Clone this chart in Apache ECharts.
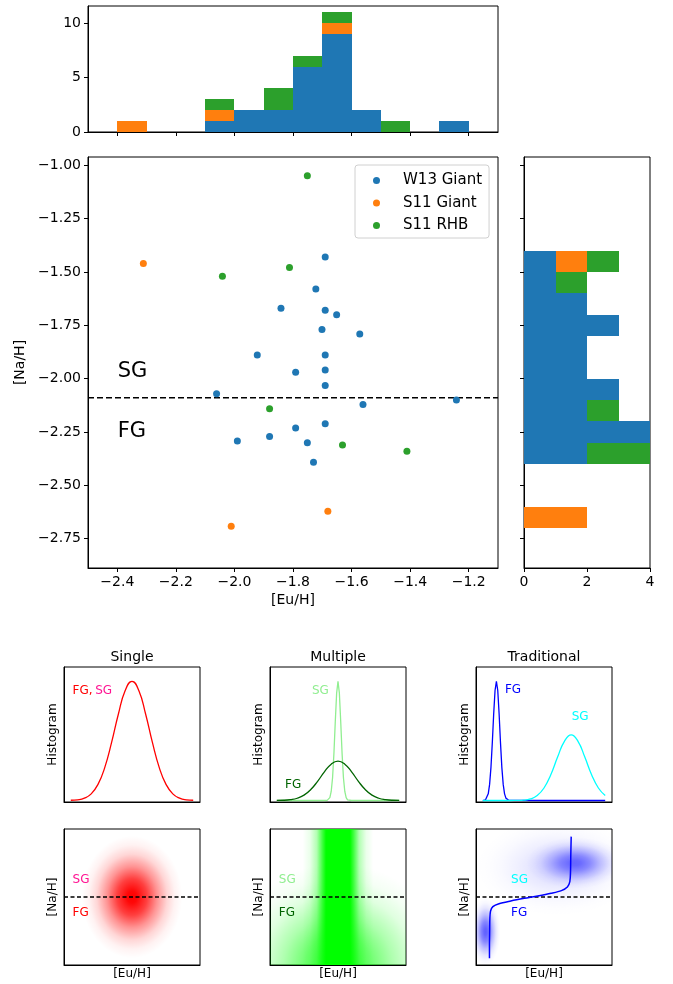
<!DOCTYPE html>
<html>
<head>
<meta charset="utf-8">
<script src="https://cdn.jsdelivr.net/npm/echarts@6/dist/echarts.min.js"></script>
<style>
  html, body { margin: 0; padding: 0; background: #fff; }
  #chart { width: 673px; height: 984px; }
</style>
</head>
<body>
<div id="chart"></div>
<script>
// ---- scatter points ----
var w13Eu = [-1.690, -1.722, -1.841, -1.690, -1.651, -1.701, -1.572, -1.922, -1.690, -1.791, -1.690,
             -1.690, -2.061, -1.242, -1.561, -1.690, -1.791, -1.880, -1.990, -1.751, -1.730];
var w13Na = [-1.429, -1.579, -1.670, -1.679, -1.700, -1.770, -1.791, -1.889, -1.889, -1.970, -1.960,
             -2.032, -2.071, -2.100, -2.121, -2.212, -2.231, -2.271, -2.292, -2.301, -2.392];
var s11gEu = [-2.311, -2.011, -1.681];
var s11gNa = [-1.460, -2.692, -2.622];
var s11rEu = [-1.751, -1.812, -2.041, -1.880, -1.631, -1.411];
var s11rNa = [-1.048, -1.479, -1.520, -2.141, -2.311, -2.340];
var splitNa = -2.09;

// ---- top histogram ([Eu/H]) ----
var topEdges = [-2.4, -2.3, -2.2, -2.1, -2.0, -1.9, -1.8, -1.7, -1.6, -1.5, -1.4, -1.3, -1.2];
var topW13  = [0, 0, 0, 1, 2, 2, 6, 9, 2, 0, 0, 1];
var topS11g = [1, 0, 0, 1, 0, 0, 0, 1, 0, 0, 0, 0];
var topS11r = [0, 0, 0, 1, 0, 2, 1, 1, 0, 1, 0, 0];

// ---- right histogram ([Na/H]), bins from bottom to top ----
var rightEdges = [-2.7, -2.6, -2.5, -2.4, -2.3, -2.2, -2.1, -2.0, -1.9, -1.8, -1.7, -1.6, -1.5, -1.4];
var rightW13  = [0, 0, 0, 2, 4, 2, 3, 2, 2, 3, 2, 1, 1];
var rightS11g = [2, 0, 0, 0, 0, 0, 0, 0, 0, 0, 0, 0, 1];
var rightS11r = [0, 0, 0, 2, 0, 1, 0, 0, 0, 0, 0, 1, 1];

// tick labels
var euTicks = [-2.4, -2.2, -2.0, -1.8, -1.6, -1.4, -1.2];
var naTicks = [-2.75, -2.5, -2.25, -2.0, -1.75, -1.5, -1.25, -1.0];
var countTicksTop = [0, 5, 10];
var countTicksRight = [0, 2, 4];

// ---- schematic panels (x as fraction of the panel) ----
var xWide = [0.05, 0.1, 0.15, 0.2, 0.25, 0.3, 0.35, 0.4, 0.45, 0.5, 0.55, 0.6, 0.65, 0.7, 0.75, 0.8, 0.85, 0.9, 0.95];
var singleY = [0.002, 0.006, 0.02, 0.056, 0.135, 0.278, 0.487, 0.726, 0.923, 1, 0.923, 0.726, 0.487, 0.278, 0.135, 0.056, 0.02, 0.006, 0.002];
var multFgY = [0.001, 0.002, 0.007, 0.019, 0.045, 0.092, 0.161, 0.24, 0.305, 0.33, 0.305, 0.24, 0.161, 0.092, 0.045, 0.019, 0.007, 0.002, 0.001];
var multSgX = [0.05, 0.3, 0.4, 0.42, 0.43, 0.44, 0.45, 0.46, 0.47, 0.48, 0.49, 0.5, 0.51, 0.52, 0.53, 0.54, 0.55, 0.56, 0.57, 0.58, 0.6, 0.7, 0.95];
var multSgY = [0, 0, 0, 0.001, 0.006, 0.024, 0.076, 0.191, 0.395, 0.661, 0.902, 1, 0.902, 0.661, 0.395, 0.191, 0.076, 0.024, 0.006, 0.001, 0, 0, 0];
var tradFgX = [0.05, 0.06, 0.07, 0.08, 0.09, 0.1, 0.11, 0.12, 0.13, 0.14, 0.15, 0.16, 0.17, 0.18, 0.19, 0.2, 0.21, 0.22, 0.23, 0.24, 0.25, 0.5, 0.95];
var tradFgY = [0, 0.002, 0.006, 0.02, 0.056, 0.135, 0.278, 0.487, 0.726, 0.923, 1, 0.923, 0.726, 0.487, 0.278, 0.135, 0.056, 0.02, 0.006, 0.002, 0, 0, 0];
var tradSgY = [0, 0, 0, 0, 0, 0.001, 0.003, 0.013, 0.042, 0.105, 0.217, 0.364, 0.496, 0.55, 0.496, 0.364, 0.217, 0.105, 0.042];
// traditional track in the [Eu/H]-[Na/H] sketch
var trackX = [0.099, 0.099, 0.100, 0.102, 0.107, 0.124, 0.169, 0.256, 0.355, 0.454, 0.553, 0.628, 0.672, 0.690, 0.695, 0.697, 0.700];
var trackY = [0.049, 0.15, 0.221, 0.343, 0.397, 0.429, 0.451, 0.471, 0.490, 0.507, 0.527, 0.547, 0.574, 0.613, 0.686, 0.809, 0.944];
// blobs: [centre x, centre y, radius x, radius y, peak alpha]
var singleBlob = [[0.5, 0.5, 0.37, 0.45, 1]];
var multBlob = [[0.5, 0.0, 0.8, 0.75, 0.75]];
var multBand = [[0.24, 0.76, 0, 1]];
var tradBlobs = [[0.6, 0.72, 0.6, 0.36, 0.14], [0.73, 0.75, 0.36, 0.19, 0.55], [0.07, 0.245, 0.11, 0.25, 0.62]];

var font = 'DejaVu Sans';
var C_BLUE = '#1f77b4', C_ORANGE = '#ff7f0e', C_GREEN = '#2ca02c';

function zip(a, b) { return a.map(function (v, i) { return [v, b[i]]; }); }

function fmt(d) {
  return function (v) { return (v < 0 ? '\u2212' : '') + Math.abs(v).toFixed(d); };
}

// stacked histogram rectangles -> [x0, x1, y0, y1]
function stackRects(edges, layers, horizontal) {
  var out = layers.map(function () { return []; });
  for (var i = 0; i < edges.length - 1; i++) {
    var base = 0;
    layers.forEach(function (counts, k) {
      var c = counts[i];
      if (c > 0) {
        out[k].push(horizontal ? [base, base + c, edges[i], edges[i + 1]]
                               : [edges[i], edges[i + 1], base, base + c]);
      }
      base += c;
    });
  }
  return out;
}

function rectItem(params, api) {
  var a = api.coord([api.value(0), api.value(2)]);
  var b = api.coord([api.value(1), api.value(3)]);
  var x0 = Math.round(Math.min(a[0], b[0])), x1 = Math.round(Math.max(a[0], b[0]));
  var y0 = Math.round(Math.min(a[1], b[1])), y1 = Math.round(Math.max(a[1], b[1]));
  return {
    type: 'rect',
    shape: { x: x0, y: y0, width: x1 - x0, height: y1 - y0 },
    style: { fill: api.visual('color') }
  };
}

var fall = [[0, 1], [0.1, 0.97], [0.3, 0.75], [0.5, 0.42], [0.7, 0.16], [0.85, 0.05], [1, 0]];
function blobItem(rgb) {
  return function (params, api) {
    var c = api.coord([api.value(0), api.value(1)]);
    var s = api.size([api.value(2), api.value(3)]);
    var amax = api.value(4);
    return {
      type: 'circle',
      x: c[0], y: c[1], scaleY: s[1] / s[0],
      shape: { cx: 0, cy: 0, r: s[0] },
      style: {
        fill: {
          type: 'radial', x: 0.5, y: 0.5, r: 0.5,
          colorStops: fall.map(function (f) { return { offset: f[0], color: 'rgba(' + rgb + ',' + (f[1] * amax) + ')' }; })
        }
      }
    };
  };
}

var bandStops = [[0, 0], [0.1, 0.08], [0.2, 0.3], [0.28, 0.75], [0.33, 1], [0.67, 1], [0.72, 0.75], [0.8, 0.3], [0.9, 0.08], [1, 0]];
function bandItem(params, api) {
  var a = api.coord([api.value(0), api.value(2)]);
  var b = api.coord([api.value(1), api.value(3)]);
  return {
    type: 'rect',
    shape: { x: a[0], y: b[1], width: b[0] - a[0], height: a[1] - b[1] },
    style: {
      fill: {
        type: 'linear', x: 0, y: 0, x2: 1, y2: 0,
        colorStops: bandStops.map(function (f) { return { offset: f[0], color: 'rgba(0,255,0,' + f[1] + ')' }; })
      }
    }
  };
}

function valAxis(grid, min, max, ticks, showLabels, dec, extra) {
  var ax = {
    type: 'value', gridIndex: grid, min: min, max: max,
    axisLine: { show: true, onZero: false, lineStyle: { color: '#000', width: 1 } },
    axisTick: { show: !!ticks, length: 4, lineStyle: { color: '#000', width: 1 }, customValues: ticks || undefined },
    axisLabel: { show: !!showLabels, customValues: ticks || undefined, margin: 7, color: '#000',
                 fontFamily: font, fontSize: 14, formatter: fmt(dec) },
    splitLine: { show: false }
  };
  for (var k in extra) ax[k] = extra[k];
  return ax;
}

function nameStyle(size) { return { fontFamily: font, fontSize: size, color: '#000' }; }

function textSeries(axisIdx, xs, ys, texts, colors, size) {
  return {
    type: 'scatter', xAxisIndex: axisIdx, yAxisIndex: axisIdx, symbolSize: 1, silent: true, z: 6,
    itemStyle: { color: 'rgba(0,0,0,0)', opacity: 1 },
    data: xs.map(function (x, i) { return { value: [x, ys[i]], label: { color: colors[i] } }; }),
    label: { show: true, position: 'right', distance: 0, opacity: 1, fontFamily: font, fontSize: size,
             formatter: function (p) { return texts[p.dataIndex]; } }
  };
}

function lineSeries(axisIdx, pts, color, width, smooth, dash, z) {
  return {
    type: 'line', xAxisIndex: axisIdx, yAxisIndex: axisIdx, data: pts, showSymbol: false, symbol: 'none',
    smooth: smooth, silent: true, z: z || 3,
    lineStyle: { color: color, width: width, type: dash || 'solid' }
  };
}

// ---- layout ----
var grids = [
  { left: 88, top: 6, width: 410, height: 126 },    // 0 top histogram
  { left: 88, top: 157, width: 410, height: 411 },  // 1 scatter
  { left: 524, top: 157, width: 126, height: 411 }, // 2 right histogram
  { left: 64, top: 667, width: 136, height: 135 },  // 3 single hist
  { left: 270, top: 667, width: 136, height: 135 }, // 4 multiple hist
  { left: 476, top: 667, width: 136, height: 135 }, // 5 traditional hist
  { left: 64, top: 829, width: 136, height: 136 },  // 6 single plane
  { left: 270, top: 829, width: 136, height: 136 }, // 7 multiple plane
  { left: 476, top: 829, width: 136, height: 136 }  // 8 traditional plane
].map(function (g) {
  g.show = true; g.borderColor = '#000'; g.borderWidth = 1; g.backgroundColor = 'rgba(0,0,0,0)';
  g.containLabel = false; g.outerBoundsMode = 'none';
  return g;
});

var histMin = -0.0125, histMax = 1.12;
var xAxes = [
  valAxis(0, -2.5, -1.1, euTicks, false, 1),
  valAxis(1, -2.5, -1.1, euTicks, true, 1, { name: '[Eu/H]', nameLocation: 'middle', nameGap: 25, nameTextStyle: nameStyle(14) }),
  valAxis(2, 0, 4, countTicksRight, true, 0)
];
var yAxes = [
  valAxis(0, 0, 11.55, countTicksTop, true, 0),
  valAxis(1, -2.888, -0.9605, naTicks, true, 2, { name: '[Na/H]', nameLocation: 'middle', nameGap: 56, nameTextStyle: nameStyle(14) }),
  valAxis(2, -2.888, -0.9605, naTicks, false, 2)
];
for (var p = 0; p < 3; p++) {
  xAxes.push(valAxis(3 + p, 0, 1, null, false, 1));
  yAxes.push(valAxis(3 + p, histMin, histMax, null, false, 1,
    { name: 'Histogram', nameLocation: 'middle', nameGap: 5, nameTextStyle: nameStyle(12) }));
}
for (var q = 0; q < 3; q++) {
  xAxes.push(valAxis(6 + q, 0, 1, null, false, 1,
    { name: '[Eu/H]', nameLocation: 'middle', nameGap: 3, nameTextStyle: nameStyle(12) }));
  yAxes.push(valAxis(6 + q, 0, 1, null, false, 1,
    { name: '[Na/H]', nameLocation: 'middle', nameGap: 5, nameTextStyle: nameStyle(12) }));
}

var topRects = stackRects(topEdges, [topW13, topS11g, topS11r], false);
var rightRects = stackRects(rightEdges, [rightW13, rightS11g, rightS11r], true);
var histColors = [C_BLUE, C_ORANGE, C_GREEN];

var series = [];
topRects.forEach(function (d, k) {
  series.push({ type: 'custom', name: 'top-' + k, xAxisIndex: 0, yAxisIndex: 0, renderItem: rectItem,
                encode: { x: [0, 1], y: [2, 3] }, itemStyle: { color: histColors[k] }, data: d, silent: true });
});
rightRects.forEach(function (d, k) {
  series.push({ type: 'custom', name: 'right-' + k, xAxisIndex: 2, yAxisIndex: 2, renderItem: rectItem,
                encode: { x: [0, 1], y: [2, 3] }, itemStyle: { color: histColors[k] }, data: d, silent: true });
});

// main scatter
[['W13 Giant', C_BLUE, w13Eu, w13Na], ['S11 Giant', C_ORANGE, s11gEu, s11gNa], ['S11 RHB', C_GREEN, s11rEu, s11rNa]]
  .forEach(function (s) {
    series.push({ type: 'scatter', name: s[0], xAxisIndex: 1, yAxisIndex: 1, symbolSize: 7,
                  itemStyle: { color: s[1], opacity: 1 }, data: zip(s[2], s[3]), z: 4 });
  });
series.push(lineSeries(1, [[-2.5, splitNa], [-1.1, splitNa]], '#000', 1.5, false, [6, 3], 3));
series.push(textSeries(1, [-2.4, -2.4], [-1.969, -2.246], ['SG', 'FG'], ['#000', '#000'], 21));

// schematic histograms
series.push(lineSeries(3, zip(xWide, singleY), '#ff0000', 1.3, true));
series.push(textSeries(3, [0.059, 0.226], [0.923, 0.923], ['FG,', 'SG'], ['#ff0000', '#ff1493'], 12));
series.push(lineSeries(4, zip(multSgX, multSgY), '#90ee90', 1.3, false));
series.push(lineSeries(4, zip(xWide, multFgY), '#006400', 1.3, true));
series.push(textSeries(4, [0.305, 0.107], [0.923, 0.135], ['SG', 'FG'], ['#90ee90', '#006400'], 12));
series.push(lineSeries(5, zip(tradFgX, tradFgY), '#0000ff', 1.3, false));
series.push(lineSeries(5, zip(xWide, tradSgY), '#00ffff', 1.3, true));
series.push(textSeries(5, [0.209, 0.70], [0.925, 0.699], ['FG', 'SG'], ['#0000ff', '#00ffff'], 12));

// schematic planes
series.push({ type: 'custom', xAxisIndex: 6, yAxisIndex: 6, renderItem: blobItem('255,0,0'), clip: true,
              encode: { x: 0, y: 1 }, data: singleBlob, silent: true, z: 1 });
series.push({ type: 'custom', xAxisIndex: 7, yAxisIndex: 7, renderItem: blobItem('0,255,0'), clip: true,
              encode: { x: 0, y: 1 }, data: multBlob, silent: true, z: 1 });
series.push({ type: 'custom', xAxisIndex: 7, yAxisIndex: 7, renderItem: bandItem, clip: true,
              encode: { x: [0, 1], y: [2, 3] }, data: multBand, silent: true, z: 1 });
series.push({ type: 'custom', xAxisIndex: 8, yAxisIndex: 8, renderItem: blobItem('0,0,255'), clip: true,
              encode: { x: 0, y: 1 }, data: tradBlobs, silent: true, z: 1 });
[6, 7, 8].forEach(function (ai) {
  series.push(lineSeries(ai, [[0, 0.5], [1, 0.5]], '#000', 1.3, false, [4, 2.5], 4));
});
series.push(lineSeries(8, zip(trackX, trackY), '#0000ff', 1.5, 0.3, null, 5));
series.push(textSeries(6, [0.059, 0.059], [0.627, 0.381], ['SG', 'FG'], ['#ff1493', '#ff0000'], 12));
series.push(textSeries(7, [0.061, 0.061], [0.627, 0.381], ['SG', 'FG'], ['#90ee90', '#006400'], 12));
series.push(textSeries(8, [0.254, 0.254], [0.626, 0.381], ['SG', 'FG'], ['#00ffff', '#0000ff'], 12));

var titles = [['Single', 132], ['Multiple', 338], ['Traditional', 544]];

var chart = echarts.init(document.getElementById('chart'), null, { renderer: 'canvas' });
chart.setOption({
  animation: false,
  backgroundColor: '#fff',
  grid: grids,
  xAxis: xAxes,
  yAxis: yAxes,
  legend: {
    data: ['W13 Giant', 'S11 Giant', 'S11 RHB'],
    orient: 'vertical', left: 355, top: 165,
    icon: 'circle', itemWidth: 43, itemHeight: 7, itemGap: 7.5,
    padding: [8, 7, 5, 18],
    selectedMode: false,
    itemStyle: { opacity: 1 },
    textStyle: { fontFamily: font, fontSize: 15, color: '#000' },
    borderColor: '#d0d0d0', borderWidth: 1, borderRadius: 3,
    backgroundColor: 'rgba(255,255,255,0.8)'
  },
  graphic: titles.map(function (t) {
    return { type: 'text', x: t[1], y: 657, silent: true,
             style: { text: t[0], align: 'center', verticalAlign: 'middle', font: '14px "DejaVu Sans"', fill: '#000' } };
  }),
  series: series
});
</script>
</body>
</html>
